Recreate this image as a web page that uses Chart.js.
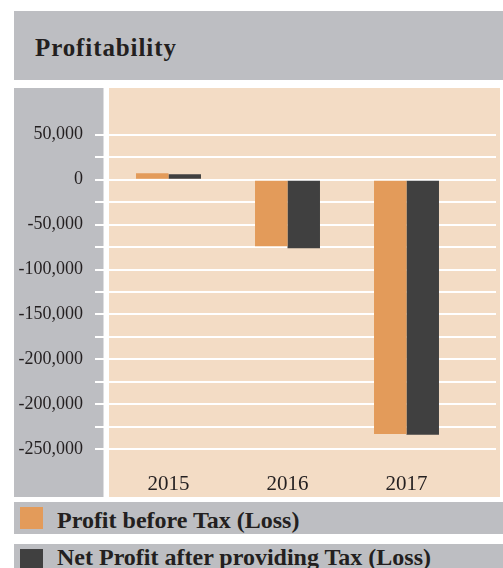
<!DOCTYPE html>
<html>
<head>
<meta charset="utf-8">
<script src="https://cdn.jsdelivr.net/npm/chart.js@4"></script>
<style>
  html, body { margin: 0; padding: 0; background: #fff; }
  #page { position: relative; width: 503px; height: 568px; overflow: hidden; font-family: 'Liberation Serif', serif; color: #231f20; }
  #title { position: absolute; left: 14px; top: 11px; width: 489px; height: 69px; background: #bdbec2; }
  #title span { position: absolute; left: 21px; top: 23.8px; font-weight: bold; font-size: 25px; line-height: 25px; letter-spacing: 0.9px; white-space: nowrap; }
  #chartBox { position: absolute; left: 0; top: 80px; width: 503px; height: 417px; }
  .legendRow { position: absolute; left: 14px; width: 489px; height: 32px; background: #bdbec2; }
  .legendRow .box { position: absolute; left: 6px; top: 5px; width: 23px; height: 22px; }
  .legendRow .txt { position: absolute; left: 43px; font-weight: bold; font-size: 24px; line-height: 24px; white-space: nowrap; }
</style>
</head>
<body>
<div id="page">
  <div id="title"><span>Profitability</span></div>
  <div id="chartBox"><canvas id="myChart" width="503" height="417"></canvas></div>
  <div id="legend"></div>
</div>
<script>
const years = ['2015', '2016', '2017'];
const profitBeforeTax = [7200, -74000, -283000];
const netProfitAfterTax = [6100, -76300, -284000];
const seriesNames = ['Profit before Tax (Loss)', 'Net Profit after providing Tax (Loss)'];
const seriesColors = ['#e39b5a', '#404040'];
// labelled ticks (the source repeats "-200,000", kept as printed)
const yTickValues = [50000, 0, -50000, -100000, -150000, -200000, -250000, -300000];
const yTickLabels = ['50,000', '0', '-50,000', '-100,000', '-150,000', '-200,000', '-200,000', '-250,000'];
const yMinorValues = [25000, -25000, -75000, -125000, -175000, -225000, -275000];

// grey axis panel + peach plot panel behind everything
const panels = {
    id: 'panels',
    beforeDraw(chart) {
        const ctx = chart.ctx
        ctx.save()
        ctx.fillStyle = '#bdbec2'
        ctx.fillRect(14, 8, 89.5, 409)
        ctx.fillStyle = '#f3dcc5'
        ctx.fillRect(109, 8, 391, 409)
        ctx.restore()
    }
}

// gridlines run a bit past the last category in the original
const gridExtend = {
    id: 'gridExtend',
    beforeDatasetsDraw(chart) {
        const y = chart.scales.y
        const ctx = chart.ctx
        ctx.save()
        ctx.strokeStyle = '#ffffff'
        ctx.lineWidth = 2
        y.ticks.forEach(t => {
            const py = Math.round(y.getPixelForValue(t.value))
            ctx.beginPath()
            ctx.moveTo(chart.chartArea.right, py)
            ctx.lineTo(496, py)
            ctx.stroke()
        })
        ctx.restore()
    }
}

function drawChart() {
    const ctx = document.getElementById('myChart')

    const data = {
        labels: years,
        datasets: [
            {
                label: seriesNames[0],
                data: profitBeforeTax,
                backgroundColor: seriesColors[0],
                borderWidth: 0
            },
            {
                label: seriesNames[1],
                data: netProfitAfterTax,
                backgroundColor: seriesColors[1],
                borderWidth: 0
            }
        ]
    }

    const config = {
        type: 'bar',
        data: data,
        plugins: [panels, gridExtend],
        options: {
            responsive: false,
            animation: false,
            categoryPercentage: 0.546,
            barPercentage: 1,
            layout: {padding: {top: 8, right: 37, left: 0, bottom: 0}},
            scales: {
                x: {
                    grid: {display: false, drawTicks: false},
                    border: {display: false},
                    ticks: {color: '#231f20', font: {family: 'Liberation Serif', size: 21}, padding: 12},
                    afterFit(s) { s.height = 37; s.paddingLeft = 0; s.paddingRight = 0 }
                },
                y: {
                    min: -312000,
                    max: 102000,
                    afterBuildTicks(s) {
                        s.ticks = yTickValues.concat(yMinorValues).sort((a, b) => a - b).map(v => ({value: v}))
                    },
                    grid: {color: '#ffffff', lineWidth: 2, tickLength: 14, drawTicks: true},
                    border: {display: false},
                    ticks: {
                        color: '#231f20',
                        font: {family: 'Liberation Serif', size: 18},
                        padding: 12,
                        callback(v) {
                            const i = yTickValues.indexOf(v)
                            return i >= 0 ? yTickLabels[i] : ''
                        }
                    },
                    afterFit(s) { s.width = 109; s.paddingTop = 0; s.paddingBottom = 0 }
                }
            },
            plugins: {legend: {display: false}, tooltip: {enabled: false}}
        }
    }

    new Chart(ctx, config)

    // legend rows built from the series arrays
    const legend = document.getElementById('legend')
    const rowTops = [502, 544]
    const textTops = [5.6, 0.5]
    seriesNames.forEach((name, i) => {
        const row = document.createElement('div')
        row.className = 'legendRow'
        row.style.top = rowTops[i] + 'px'
        const box = document.createElement('div')
        box.className = 'box'
        box.style.background = seriesColors[i]
        const txt = document.createElement('div')
        txt.className = 'txt'
        txt.style.top = textTops[i] + 'px'
        txt.textContent = name
        row.appendChild(box)
        row.appendChild(txt)
        legend.appendChild(row)
    })
}

document.addEventListener('DOMContentLoaded', drawChart)
</script>
</body>
</html>
